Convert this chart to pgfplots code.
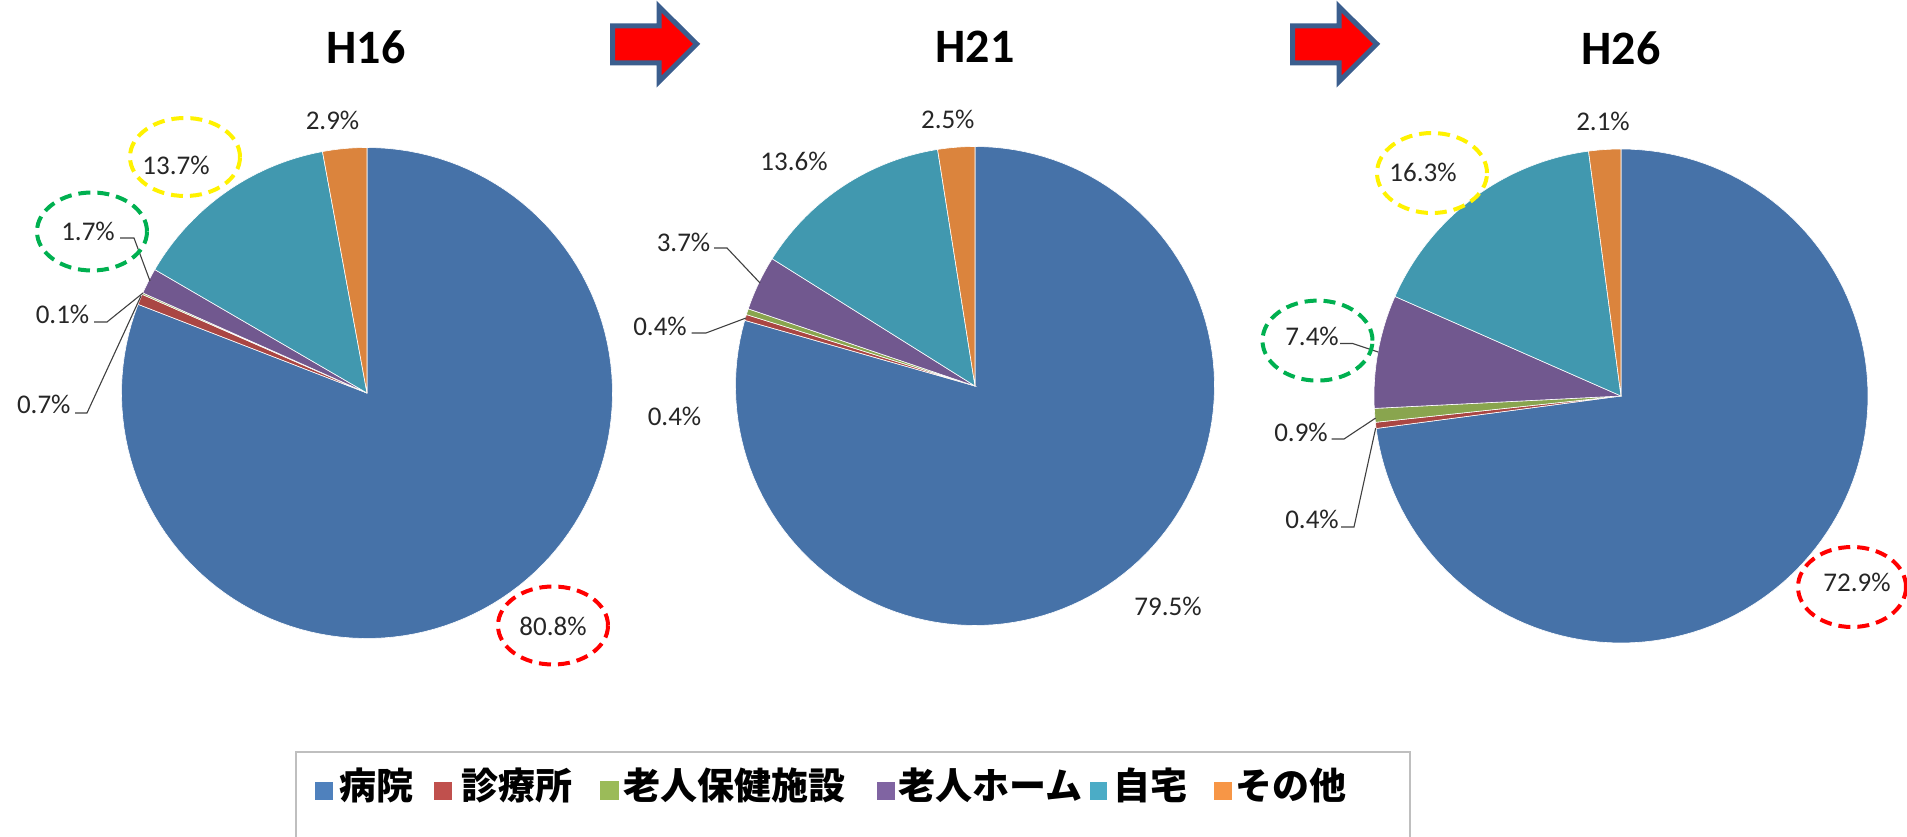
\documentclass[border=0pt]{standalone}
\usepackage{pgfplots}
\usepackage{pgfplotstable}
\pgfplotsset{compat=1.18}
\usepackage{fontspec}
\setmainfont{Carlito}
\newfontfamily\cjk{Noto Sans CJK JP}

% pie slice colours (as rendered in the chart)
\definecolor{slice0}{HTML}{4672A8}
\definecolor{slice1}{HTML}{AA4643}
\definecolor{slice2}{HTML}{89A54E}
\definecolor{slice3}{HTML}{71588F}
\definecolor{slice4}{HTML}{4198AF}
\definecolor{slice5}{HTML}{DB843D}
% legend swatch colours
\definecolor{leg0}{HTML}{4F81BD}
\definecolor{leg1}{HTML}{C0504D}
\definecolor{leg2}{HTML}{9BBB59}
\definecolor{leg3}{HTML}{8064A2}
\definecolor{leg4}{HTML}{4BACC6}
\definecolor{leg5}{HTML}{F79646}
\definecolor{arrowblue}{HTML}{3B5E8E}
\definecolor{ringgreen}{HTML}{00B050}

% rows: 病院, 診療所, 老人保健施設, 老人ホーム, 自宅, その他
\pgfplotstableread{
H16 H21 H26
80.8 79.5 72.9
0.7 0.4 0.4
0.1 0.4 0.9
1.7 3.7 7.4
13.7 13.6 16.3
2.9 2.5 2.1
}\piedata

% #1 column, #2 centre x, #3 centre y, #4 radius
\newcommand\drawpie[4]{%
  \def\pietotal{0}%
  \pgfplotsforeachungrouped \i in {0,...,5}{%
    \pgfplotstablegetelem{\i}{#1}\of\piedata
    \pgfmathsetmacro\pietotal{\pietotal+\pgfplotsretval}%
  }%
  \def\piecum{0}%
  \pgfplotsforeachungrouped \i in {0,...,5}{%
    \pgfplotstablegetelem{\i}{#1}\of\piedata
    \pgfmathsetmacro\piecumnext{\piecum+\pgfplotsretval}%
    \pgfmathsetmacro\pieA{90-(\piecumnext/\pietotal)*360}%
    \pgfmathsetmacro\pieB{90-(\piecum/\pietotal)*360}%
    \edef\pietemp{\noexpand\addplot[fill=slice\i, draw=white, line width=0.3pt, forget plot, domain=\pieA:\pieB, samples=120, variable=\noexpand\t] ({#2+#4*cos(\noexpand\t)},{#3+#4*sin(\noexpand\t)}) -- (axis cs:#2,#3) -- cycle;}%
    \pietemp
    \let\piecum\piecumnext
  }%
}

\newcommand\lbl{\fontsize{13.5pt}{16pt}\selectfont}
\tikzset{
  pct/.style={font=\lbl, text=black!85, inner sep=0pt},
  lead/.style={draw=black!75, line width=0.55pt},
  ring/.style={line width=2pt, dash pattern=on 6pt off 3.5pt},
  bigarrow/.style={fill=red, draw=arrowblue, line width=2.5pt, line join=miter},
  legtext/.style={anchor=west, inner sep=0pt, font=\cjk\bfseries\fontsize{18.5pt}{21pt}\selectfont},
}

\begin{document}
\begin{tikzpicture}
\begin{axis}[x=0.5pt, y=0.5pt, xmin=0, xmax=1907, ymin=0, ymax=836,
  hide axis, clip=false, anchor=origin, at={(0,0)}]

\drawpie{H16}{367}{443}{245.5}
\drawpie{H21}{975}{450}{239.5}
\drawpie{H26}{1621}{440}{247}

% titles
\node[font=\bfseries\fontsize{24pt}{28pt}\selectfont, inner sep=0pt] at (axis cs:366,789) {H16};
\node[font=\bfseries\fontsize{24pt}{28pt}\selectfont, inner sep=0pt] at (axis cs:975,789) {H21};
\node[font=\bfseries\fontsize{24pt}{28pt}\selectfont, inner sep=0pt] at (axis cs:1621,788) {H26};

% arrows
\draw[bigarrow] (axis cs:612.7,810) -- (axis cs:659,810) -- (axis cs:659,829.3) -- (axis cs:696.7,792) -- (axis cs:659,754.3) -- (axis cs:659,773) -- (axis cs:612.7,773) -- cycle;
\draw[bigarrow] (axis cs:1292.7,810) -- (axis cs:1339,810) -- (axis cs:1339,829.3) -- (axis cs:1376.7,792) -- (axis cs:1339,754.3) -- (axis cs:1339,773) -- (axis cs:1292.7,773) -- cycle;

% H16 labels
\node[pct] at (axis cs:332.5,716) {2.9\%};
\node[pct] at (axis cs:176,671) {13.7\%};
\node[pct] at (axis cs:88,605) {1.7\%};
\node[pct] at (axis cs:62.5,522) {0.1\%};
\node[pct] at (axis cs:43.8,432) {0.7\%};
\node[pct] at (axis cs:553,210) {80.8\%};
\draw[lead] (axis cs:120,598) -- (axis cs:134,598) -- (axis cs:150,555);
\draw[lead] (axis cs:94,514) -- (axis cs:107,514) -- (axis cs:143,543);
\draw[lead] (axis cs:75,423) -- (axis cs:87,423) -- (axis cs:141,540);
\draw[ring, yellow] (axis cs:185,679) ellipse [x radius=27.5pt, y radius=19.5pt];
\draw[ring, ringgreen] (axis cs:92,604.5) ellipse [x radius=27.5pt, y radius=19.5pt];
\draw[ring, red] (axis cs:553,210.5) ellipse [x radius=27.5pt, y radius=19.5pt];

% H21 labels
\node[pct] at (axis cs:947.8,717) {2.5\%};
\node[pct] at (axis cs:794,675) {13.6\%};
\node[pct] at (axis cs:683.5,593.5) {3.7\%};
\node[pct] at (axis cs:660,510) {0.4\%};
\node[pct] at (axis cs:674.5,420) {0.4\%};
\node[pct] at (axis cs:1168,230) {79.5\%};
\draw[lead] (axis cs:714,588) -- (axis cs:727,588) -- (axis cs:760,553);
\draw[lead] (axis cs:691.5,503) -- (axis cs:706,503) -- (axis cs:746,518);

% H26 labels
\node[pct] at (axis cs:1603,714.5) {2.1\%};
\node[pct] at (axis cs:1423,664) {16.3\%};
\node[pct] at (axis cs:1312,500) {7.4\%};
\node[pct] at (axis cs:1301,403.5) {0.9\%};
\node[pct] at (axis cs:1312,316.5) {0.4\%};
\node[pct] at (axis cs:1857,254) {72.9\%};
\draw[lead] (axis cs:1340,492.5) -- (axis cs:1352.6,492.5) -- (axis cs:1378,484);
\draw[lead] (axis cs:1331.7,397) -- (axis cs:1344,397) -- (axis cs:1375.7,418);
\draw[lead] (axis cs:1341,309) -- (axis cs:1354,309) -- (axis cs:1375.7,408);
\draw[ring, yellow] (axis cs:1432,663) ellipse [x radius=27.5pt, y radius=20pt];
\draw[ring, ringgreen] (axis cs:1317.5,495.4) ellipse [x radius=27.5pt, y radius=20pt];
\draw[ring, red] (axis cs:1852,249) ellipse [x radius=27pt, y radius=20pt];

% legend
\draw[black!25, line width=1pt] (axis cs:296,84) rectangle (axis cs:1410,-40);
\fill[leg0] (axis cs:315,36) rectangle (axis cs:333,54);
\fill[leg1] (axis cs:434,36) rectangle (axis cs:452,54);
\fill[leg2] (axis cs:600,36) rectangle (axis cs:619,55);
\fill[leg3] (axis cs:877,36) rectangle (axis cs:895,54);
\fill[leg4] (axis cs:1090,36) rectangle (axis cs:1107,54);
\fill[leg5] (axis cs:1214,36) rectangle (axis cs:1232,54);
\node[legtext] at (axis cs:339,51) {病院};
\node[legtext] at (axis cs:461,51) {診療所};
\node[legtext] at (axis cs:623,51) {老人保健施設};
\node[legtext] at (axis cs:898,51) {老人ホーム};
\node[legtext] at (axis cs:1113,51) {自宅};
\node[legtext] at (axis cs:1235,51) {その他};
\end{axis}
\pgfresetboundingbox
\path[use as bounding box] (0,0) rectangle (953.5pt,418pt);
\end{tikzpicture}
\end{document}
